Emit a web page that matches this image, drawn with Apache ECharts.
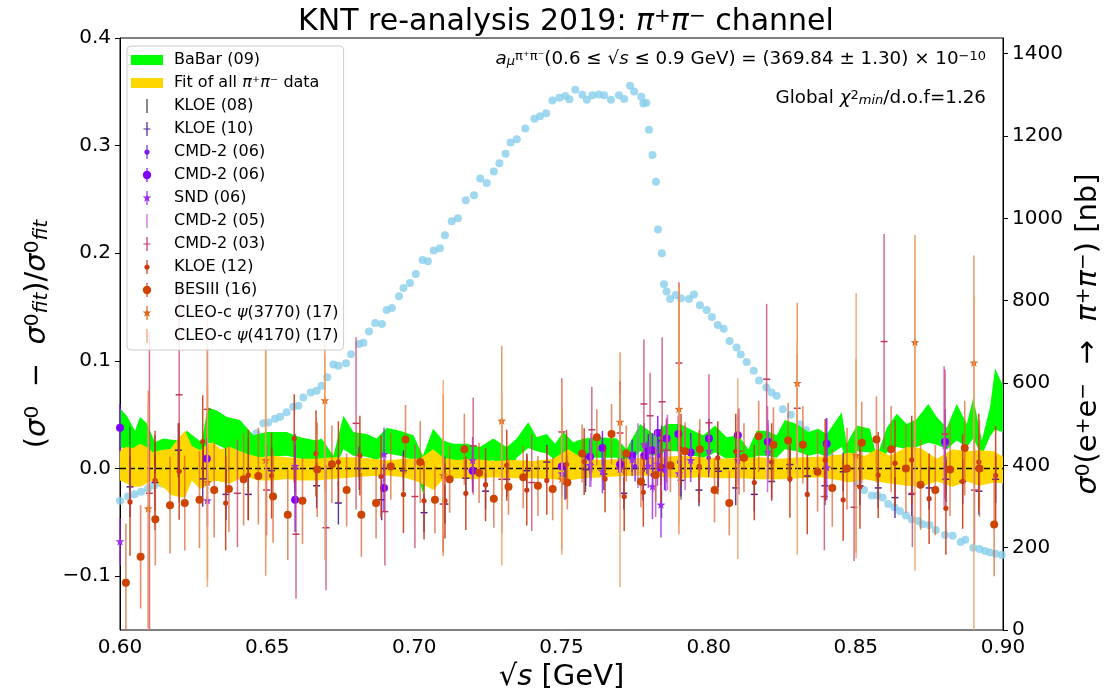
<!DOCTYPE html>
<html>
<head>
<meta charset="utf-8">
<script src="https://cdn.jsdelivr.net/npm/echarts@6/dist/echarts.min.js"></script>
<style>
html, body { margin: 0; padding: 0; background: #fff; }
#chart { width: 1105px; height: 698px; }
</style>
</head>
<body>
<div id="chart"></div>
<script>
// ---------- data ----------
const xTicks = [0.60, 0.65, 0.70, 0.75, 0.80, 0.85, 0.90];
const leftTicks = [-0.1, 0.0, 0.1, 0.2, 0.3, 0.4];
const rightTicks = [0, 200, 400, 600, 800, 1000, 1200, 1400];

// bare cross section sigma0(e+e- -> pi+pi-) [nb], right axis
const xsecX = [0.6000,0.6027,0.6050,0.6072,0.6095,0.6116,0.6140,0.6160,0.6180,0.6204,
  0.6228,0.6248,0.6272,0.6296,0.6316,0.6340,0.6364,0.6384,0.6408,0.6425,
  0.6442,0.6464,0.6487,0.6504,0.6527,0.6544,0.6566,0.6589,0.6606,0.6623,
  0.6648,0.6668,0.6685,0.6704,0.6725,0.6742,0.6768,0.6785,0.6812,0.6827,
  0.6846,0.6867,0.6890,0.6906,0.6924,0.6948,0.6963,0.6985,0.7005,0.7028,
  0.7046,0.7066,0.7087,0.7104,0.7127,0.7148,0.7175,0.7203,0.7224,0.7246,
  0.7270,0.7289,0.7310,0.7327,0.7348,0.7377,0.7408,0.7427,0.7448,0.7469,
  0.7493,0.7513,0.7527,0.7547,0.7571,0.7586,0.7605,0.7627,0.7645,0.7668,
  0.7695,0.7713,0.7733,0.7747,0.7771,0.7778,0.7788,0.7797,0.7809,0.7821,
  0.7828,0.7841,0.7848,0.7857,0.7869,0.7888,0.7906,0.7933,0.7950,0.7970,
  0.7993,0.8011,0.8031,0.8051,0.8071,0.8095,0.8109,0.8129,0.8153,0.8171,
  0.8196,0.8214,0.8231,0.8252,0.8279,0.8310,0.8331,0.8351,0.8372,0.8399,
  0.8419,0.8439,0.8463,0.8484,0.8507,0.8528,0.8554,0.8573,0.8591,0.8610,
  0.8631,0.8650,0.8670,0.8690,0.8712,0.8727,0.8750,0.8772,0.8803,0.8829,
  0.8856,0.8872,0.8899,0.8920,0.8939,0.8956,0.8975,0.8996];
const xsecY = [314,324,330,336,344,351,356,362,367,372,
  379,386,393,403,410,420,430,440,449,461,
  470,478,502,504,513,518,529,542,545,565,
  577,581,593,614,645,642,648,670,695,698,
  725,746,743,777,782,811,831,843,865,899,
  896,922,927,959,993,1000,1044,1056,1097,1086,
  1114,1134,1157,1184,1192,1218,1242,1248,1255,1286,
  1293,1297,1289,1312,1300,1288,1299,1301,1299,1288,
  1299,1290,1322,1308,1295,1279,1281,1215,1154,1089,
  973,915,840,822,804,814,806,804,815,789,
  777,760,741,732,702,686,669,651,630,606,
  589,577,569,536,523,499,486,469,452,432,
  418,398,381,369,355,340,327,327,322,306,
  298,289,278,269,265,257,255,243,231,229,
  214,219,200,197,192,188,185,182];

// BaBar (09) band relative to the fit
const babarX = [0.6000,0.6023,0.6051,0.6068,0.6091,0.6119,0.6147,0.6170,0.6198,0.6227,
  0.6255,0.6278,0.6297,0.6329,0.6363,0.6408,0.6453,0.6498,0.6566,0.6612,
  0.6668,0.6685,0.6725,0.6759,0.6793,0.6838,0.6872,0.6906,0.6951,0.6997,
  0.7029,0.7064,0.7098,0.7132,0.7178,0.7223,0.7268,0.7314,0.7348,0.7387,
  0.7416,0.7450,0.7478,0.7506,0.7540,0.7574,0.7631,0.7688,0.7721,0.7767,
  0.7812,0.7857,0.7903,0.7948,0.7982,0.8022,0.8061,0.8101,0.8135,0.8163,
  0.8197,0.8231,0.8259,0.8299,0.8339,0.8372,0.8401,0.8452,0.8469,0.8503,
  0.8548,0.8571,0.8605,0.8639,0.8673,0.8707,0.8746,0.8775,0.8809,0.8843,
  0.8877,0.8899,0.8928,0.8956,0.8973,0.9000];
const babarHi = [0.056,0.049,0.035,0.048,0.042,0.0245,0.028,0.027,0.026,0.035,
  0.029,0.0245,0.057,0.054,0.048,0.045,0.031,0.034,0.034,0.029,
  0.026,0.028,0.012,0.049,0.034,0.032,0.028,0.038,0.035,0.031,
  0.012,0.037,0.026,0.023,0.023,0.020,0.028,0.020,0.028,0.043,
  0.029,0.032,0.023,0.034,0.0245,0.028,0.029,0.028,0.018,0.0415,
  0.032,0.0415,0.0415,0.035,0.031,0.040,0.029,0.031,0.018,0.035,
  0.035,0.031,0.045,0.0415,0.034,0.037,0.032,0.052,0.023,0.040,
  0.037,0.0105,0.038,0.051,0.0415,0.046,0.060,0.048,0.038,0.060,
  0.0415,0.066,0.026,0.057,0.093,0.077];
const babarLo = [0.020,0.018,0.010,0.015,0.012,0.004,0.008,0.006,0.006,0.012,
  0.008,0.005,0.024,0.022,0.018,0.016,0.010,0.011,0.012,0.009,
  0.008,0.009,-0.004,0.018,0.012,0.011,0.008,0.014,0.012,0.008,
  -0.023,0.012,0.006,0.005,0.006,0.004,0.008,-0.008,0.010,0.019,
  0.016,0.014,0.008,0.012,0.008,0.010,0.010,0.010,0.002,0.016,
  0.012,0.016,0.016,0.012,0.010,0.015,0.009,0.010,0.002,0.012,
  0.012,0.010,0.018,0.016,0.012,0.014,0.011,0.020,0.006,0.016,
  0.015,-0.002,0.015,0.020,0.018,0.020,0.024,0.022,0.018,0.026,
  0.020,0.028,0.012,0.030,0.036,0.034];

// uncertainty band of the combined fit
const fitX = [0.6000,0.6023,0.6045,0.6068,0.6091,0.6113,0.6136,0.6159,0.6170,0.6193,
  0.6221,0.6244,0.6272,0.6295,0.6317,0.6340,0.6374,0.6408,0.6430,0.6475,
  0.6520,0.6566,0.6612,0.6668,0.6725,0.6793,0.6861,0.6906,0.6963,0.7019,
  0.7064,0.7098,0.7143,0.7200,0.7268,0.7336,0.7404,0.7472,0.7523,0.7574,
  0.7642,0.7710,0.7778,0.7846,0.7914,0.7972,0.8040,0.8108,0.8176,0.8244,
  0.8312,0.8380,0.8448,0.8476,0.8530,0.8572,0.8616,0.8673,0.8720,0.8775,
  0.8829,0.8877,0.8920,0.8970,0.9000];
const fitHi = [0.018,0.020,0.019,0.023,0.020,0.015,0.017,0.018,0.018,0.026,
  0.035,0.021,0.017,0.022,0.0245,0.018,0.020,0.016,0.0137,0.0105,
  0.012,0.0105,0.009,0.009,0.0105,0.0105,0.009,0.0074,0.009,0.009,
  0.018,0.010,0.008,0.009,0.007,0.008,0.007,0.009,0.018,0.009,
  0.008,0.009,0.010,0.011,0.012,0.0105,0.009,0.010,0.0105,0.009,
  0.0105,0.011,0.013,0.015,0.012,0.018,0.012,0.020,0.019,0.009,
  0.018,0.016,0.017,0.016,0.011];
const fitLo = [-0.011,-0.014,-0.017,-0.017,-0.014,-0.011,-0.016,-0.020,-0.024,-0.026,
  -0.027,-0.011,-0.019,-0.016,-0.011,-0.012,-0.014,-0.009,-0.008,-0.011,
  -0.011,-0.0096,-0.011,-0.011,-0.0096,-0.008,-0.007,-0.0065,-0.008,-0.013,
  -0.020,-0.010,-0.009,-0.010,-0.008,-0.009,-0.009,-0.010,-0.011,-0.009,
  -0.008,-0.007,-0.0065,-0.008,-0.009,-0.008,-0.009,-0.009,-0.010,-0.010,
  -0.009,-0.008,-0.011,-0.013,-0.010,-0.012,-0.014,-0.016,-0.017,-0.012,
  -0.017,-0.012,-0.016,-0.013,-0.014];

const zeroX = [0.6, 0.9];
const zeroY = [0, 0];

// KLOE (08)
const kloe08X = [0.6034,0.6119,0.6201,0.6283,0.6359,0.6436,0.6515,0.6595,0.6742,0.6813,
  0.6963,0.7104,0.7242,0.7382,0.7512,0.7582,0.7712,0.7840,0.7906,0.8033,
  0.8155,0.8276,0.8395,0.8514,0.8576,0.8690,0.8806,0.8918];
const kloe08Y = [0.009,0.005,-0.004,0.004,-0.001,0.004,0.002,0.004,-0.003,0.006,
  0.003,0.001,-0.002,0.002,-0.004,-0.009,0.004,-0.033,-0.007,0.003,
  -0.003,0.005,-0.004,0.002,-0.016,0.004,-0.008,-0.002];
const kloe08E = [0.030,0.026,0.022,0.020,0.020,0.025,0.016,0.015,0.014,0.015,
  0.012,0.010,0.010,0.009,0.009,0.013,0.010,0.013,0.022,0.012,
  0.012,0.013,0.014,0.015,0.012,0.016,0.016,0.018];

// KLOE (10)
const kloe10X = [0.6034,0.6119,0.6198,0.6281,0.6360,0.6436,0.6515,0.6595,0.6668,0.6742,
  0.6813,0.6889,0.6963,0.7033,0.7104,0.7175,0.7242,0.7314,0.7382,0.7450,
  0.7512,0.7582,0.7644,0.7712,0.7777,0.7840,0.7906,0.7967,0.8033,0.8092,
  0.8155,0.8214,0.8276,0.8336,0.8395,0.8457,0.8514,0.8576,0.8633,0.8690,
  0.8749,0.8806,0.8863,0.8918,0.8975];
const kloe10Y = [-0.017,-0.013,0.017,-0.0096,-0.024,-0.024,-0.002,0.000,-0.016,-0.032,
  0.000,-0.029,-0.002,-0.041,-0.033,-0.009,-0.021,-0.010,-0.002,0.006,
  -0.014,-0.001,-0.005,-0.023,-0.015,0.026,-0.011,-0.020,-0.0025,-0.018,
  -0.024,-0.012,0.0037,-0.007,-0.016,-0.003,-0.016,-0.018,-0.027,-0.024,
  -0.018,-0.010,-0.012,-0.021,-0.010];
const kloe10E = [0.028,0.026,0.025,0.026,0.024,0.024,0.022,0.022,0.021,0.020,
  0.020,0.019,0.019,0.018,0.018,0.017,0.017,0.016,0.016,0.016,
  0.015,0.015,0.015,0.015,0.015,0.014,0.015,0.015,0.015,0.016,
  0.016,0.016,0.017,0.017,0.018,0.018,0.018,0.019,0.019,0.020,
  0.020,0.021,0.021,0.022,0.022];

// CMD-2 (06), small markers
const cmd06aX = [0.7600,0.7700,0.7750,0.7790,0.7810,0.7830,0.7850,0.7900,0.8000,0.8100];
const cmd06aY = [0.004,0.008,0.002,0.010,-0.006,0.012,-0.002,0.006,0.010,0.012];
const cmd06aE = [0.015,0.014,0.014,0.015,0.016,0.016,0.018,0.016,0.018,0.020];

// CMD-2 (06), large markers
const cmd06bX = [0.6000,0.6295,0.6595,0.6897,0.7198,0.7501,0.7597,0.7639,0.7699,0.7740,
  0.7781,0.7795,0.7809,0.7827,0.7838,0.7857,0.7897,0.7939,0.8001,0.8099,
  0.8201,0.8401,0.8803];
const cmd06bY = [0.038,0.009,-0.029,-0.018,-0.002,0.002,0.011,0.019,0.0037,0.012,
  0.012,0.017,0.017,0.033,0.001,0.028,0.032,0.015,0.028,0.031,
  0.025,0.023,0.025];
const cmd06bE = [0.022,0.020,0.030,0.022,0.020,0.018,0.016,0.016,0.015,0.015,
  0.015,0.015,0.016,0.016,0.016,0.017,0.017,0.018,0.018,0.019,
  0.020,0.024,0.030];

// SND (06)
const sndX = [0.6000,0.6297,0.6595,0.6897,0.7198,0.7501,0.7597,0.7639,0.7699,0.7740,
  0.7781,0.7795,0.7809,0.7826,0.7838,0.7854,0.7899,0.7939,0.8001,0.8099,
  0.8201,0.8401,0.8803];
const sndY = [-0.068,-0.030,0.002,0.013,0.0074,-0.005,0.0028,-0.003,-0.001,0.008,
  0.022,0.002,-0.017,0.004,-0.034,-0.001,-0.005,0.0074,0.016,0.0074,
  0.015,0.0006,0.021];
const sndE = [0.022,0.024,0.030,0.025,0.022,0.020,0.020,0.020,0.015,0.015,
  0.020,0.020,0.030,0.020,0.030,0.020,0.020,0.020,0.020,0.020,
  0.025,0.030,0.030];

// CMD-2 (05)
const cmd05X = [0.7600,0.7700,0.7760,0.7820,0.7860,0.7920,0.8100,0.8200,0.8800];
const cmd05Y = [0.008,0.004,0.012,-0.005,0.015,0.010,0.020,0.018,0.030];
const cmd05E = [0.025,0.030,0.030,0.040,0.035,0.030,0.035,0.040,0.065];

// CMD-2 (03)
const cmd03X = [0.6100,0.6201,0.6297,0.6399,0.6498,0.6598,0.6700,0.6802,0.6900,0.7002,
  0.7098,0.7200,0.7297,0.7399,0.7501,0.7603,0.7699,0.7780,0.7801,0.7842,
  0.7857,0.7899,0.8001,0.8103,0.8197,0.8301,0.8393,0.8494,0.8596,0.8692,
  0.8803,0.8903];
const cmd03Y = [-0.023,0.0685,0.055,-0.023,-0.020,-0.061,-0.055,0.042,-0.040,-0.026,
  -0.033,0.021,-0.010,-0.013,0.034,0.036,0.033,0.060,0.049,0.062,
  0.017,0.098,0.0425,0.016,0.083,0.056,-0.026,-0.036,0.118,-0.023,
  0.032,-0.020];
const cmd03E = [0.150,0.100,0.065,0.050,0.042,0.060,0.058,0.080,0.050,0.048,
  0.045,0.045,0.050,0.045,0.050,0.040,0.048,0.060,0.040,0.060,
  0.030,0.075,0.045,0.040,0.070,0.050,0.050,0.050,0.100,0.050,
  0.060,0.050];

// KLOE (12)
const kloe12X = [0.6034,0.6119,0.6201,0.6281,0.6359,0.6436,0.6515,0.6592,0.6666,0.6742,
  0.6815,0.6887,0.6963,0.7033,0.7104,0.7175,0.7242,0.7314,0.7382,0.7450,
  0.7517,0.7577,0.7648,0.7713,0.7778,0.7838,0.7906,0.7968,0.8031,0.8092,
  0.8155,0.8214,0.8276,0.8335,0.8396,0.8457,0.8514,0.8576,0.8633,0.8690,
  0.8749,0.8806,0.8863,0.8918,0.8975];
const kloe12Y = [-0.031,-0.011,-0.0025,0.025,-0.032,-0.006,-0.0065,0.028,0.014,0.006,
  0.012,-0.0074,-0.024,-0.030,-0.030,-0.023,-0.015,0.003,-0.020,-0.011,
  0.004,0.0065,-0.0096,-0.026,-0.022,0.002,0.018,0.002,0.010,0.016,
  -0.013,0.006,-0.0096,-0.024,0.008,-0.029,-0.017,-0.006,0.005,0.008,
  -0.028,-0.037,-0.012,0.006,-0.0065];
const kloe12E = [0.050,0.046,0.045,0.043,0.044,0.042,0.040,0.041,0.040,0.038,
  0.037,0.038,0.036,0.036,0.035,0.034,0.034,0.033,0.033,0.032,
  0.032,0.031,0.031,0.032,0.032,0.033,0.033,0.034,0.034,0.035,
  0.035,0.036,0.036,0.037,0.038,0.038,0.039,0.040,0.040,0.041,
  0.042,0.043,0.044,0.045,0.046];

// BESIII (16)
const besX = [0.602,0.607,0.612,0.617,0.622,0.627,0.632,0.637,0.642,0.647,
  0.652,0.657,0.662,0.667,0.672,0.677,0.682,0.687,0.692,0.697,
  0.702,0.707,0.712,0.717,0.722,0.727,0.732,0.737,0.742,0.747,
  0.752,0.757,0.762,0.767,0.772,0.777,0.782,0.787,0.792,0.797,
  0.802,0.807,0.812,0.817,0.822,0.827,0.832,0.837,0.842,0.847,
  0.852,0.857,0.862,0.867,0.872,0.877,0.882,0.887,0.892,0.897];
const besY = [-0.106,-0.082,-0.047,-0.034,-0.032,-0.029,-0.020,-0.019,-0.010,-0.007,
  -0.026,-0.043,-0.030,-0.001,0.004,-0.020,-0.043,-0.032,0.002,0.027,
  0.006,-0.029,-0.010,0.018,-0.004,-0.028,-0.017,-0.008,-0.016,-0.019,
  -0.013,0.014,0.029,0.032,0.014,-0.012,-0.006,0.003,0.016,0.018,
  -0.020,-0.032,0.010,0.030,0.022,0.026,0.022,-0.003,-0.018,0.000,
  0.024,0.027,0.018,0.000,-0.015,-0.020,-0.001,0.019,0.000,-0.052];
const besE = [0.055,0.048,0.043,0.045,0.044,0.045,0.044,0.040,0.043,0.045,
  0.043,0.042,0.040,0.044,0.036,0.034,0.039,0.033,0.031,0.032,
  0.038,0.031,0.031,0.033,0.028,0.027,0.026,0.029,0.028,0.029,
  0.025,0.027,0.026,0.028,0.026,0.024,0.025,0.025,0.027,0.028,
  0.030,0.030,0.032,0.033,0.035,0.035,0.036,0.037,0.036,0.038,
  0.038,0.040,0.040,0.041,0.042,0.042,0.043,0.044,0.045,0.048];

// CLEO-c psi(3770) (17)
const cleoAX = [0.6096,0.6297,0.6495,0.6696,0.7098,0.7297,0.7501,0.7699,0.7899,0.8301,0.8501,0.8701,0.8901];
const cleoAY = [-0.0375,-0.013,0.0074,0.063,-0.0065,0.044,-0.010,0.043,0.055,0.079,0.012,0.117,0.098];
const cleoAE = [0.110,0.090,0.107,0.085,0.075,0.070,0.065,0.065,0.116,0.075,0.090,0.100,0.100];

// CLEO-c psi(4170) (17)
const cleoBX = [0.6096,0.6297,0.6495,0.6696,0.7098,0.7297,0.7501,0.7699,0.7899,0.8099,0.8301,0.8501,0.8701,0.8901];
const cleoBY = [-0.060,0.020,0.020,0.010,0.010,-0.010,0.000,-0.020,0.060,0.000,0.020,0.040,0.040,-0.030];
const cleoBE = [0.120,0.130,0.094,0.095,0.072,0.080,0.080,0.090,0.111,0.084,0.100,0.123,0.135,0.190];

// ---------- drawing helpers ----------
const FONT = 'DejaVu Sans';

function starPoints(cx, cy, r) {
  const pts = [];
  for (let k = 0; k < 10; k++) {
    const a = -Math.PI / 2 + k * Math.PI / 5;
    const rr = (k % 2) ? r * 0.42 : r;
    pts.push([cx + rr * Math.cos(a), cy + rr * Math.sin(a)]);
  }
  return pts;
}

// filled band between two curves, drawn as one polygon
function bandSeries(name, xs, lo, hi, color) {
  return {
    type: 'custom', name, silent: true, z: 2,
    itemStyle: { color },
    data: xs.map((x, i) => [x, lo[i], hi[i]]),
    encode: { x: 0, y: [1, 2] },
    renderItem(params, api) {
      if (params.dataIndex !== 0) return null;
      const upper = xs.map((x, i) => api.coord([x, hi[i]]));
      const lower = xs.map((x, i) => api.coord([x, lo[i]])).reverse();
      return { type: 'polygon', shape: { points: upper.concat(lower) }, style: { fill: color } };
    }
  };
}

// points with vertical error bars
function errSeries(name, xs, ys, es, st) {
  return {
    type: 'custom', name, silent: true, z: 3,
    itemStyle: { color: st.color },
    data: xs.map((x, i) => [x, ys[i], es[i]]),
    encode: { x: 0, y: 1 },
    renderItem(params, api) {
      const cs = params.coordSys;
      const x = api.value(0), y = api.value(1), e = api.value(2);
      const c = api.coord([x, y]);
      const t = api.coord([x, y + e]);
      const b = api.coord([x, y - e]);
      const y1 = Math.max(cs.y, t[1]);
      const y2 = Math.min(cs.y + cs.height, b[1]);
      const kids = [];
      if (y2 > y1) {
        kids.push({ type: 'line', shape: { x1: c[0], y1: y1, x2: c[0], y2: y2 },
          style: { stroke: st.bar || st.color, lineWidth: st.lw || 1.5, opacity: st.alpha == null ? 1 : st.alpha } });
      }
      if (st.marker === 'dot') {
        kids.push({ type: 'circle', shape: { cx: c[0], cy: c[1], r: st.r }, style: { fill: st.color } });
      } else if (st.marker === 'plus') {
        kids.push({ type: 'line', shape: { x1: c[0] - st.r, y1: c[1], x2: c[0] + st.r, y2: c[1] },
          style: { stroke: st.color, lineWidth: 1.5 } });
      } else if (st.marker === 'star') {
        kids.push({ type: 'polygon', shape: { points: starPoints(c[0], c[1], st.r) }, style: { fill: st.color } });
      }
      return { type: 'group', children: kids };
    }
  };
}

// legend glyphs (box fixed at 32x14 by the two leading moves)
const BOX = 'M0 0 M32 14 ';
const VBAR = 'M15.4 0 L16.6 0 L16.6 14 L15.4 14 Z';
function dotPath(r) { return ` M${16 + r} 7 A${r} ${r} 0 1 1 ${16 - r} 7 A${r} ${r} 0 1 1 ${16 + r} 7 Z`; }
function starPath(r) { return ' M' + starPoints(16, 7, r).map(p => p[0].toFixed(2) + ' ' + p[1].toFixed(2)).join(' L') + ' Z'; }
const ICON = {
  patch: 'path://' + BOX + 'M0 2 L32 2 L32 12 L0 12 Z',
  line: 'path://' + BOX + VBAR,
  plus: 'path://' + BOX + VBAR + ' M12.5 6.4 L19.5 6.4 L19.5 7.6 L12.5 7.6 Z',
  dot: 'path://' + BOX + VBAR + dotPath(2.6),
  big: 'path://' + BOX + VBAR + dotPath(4.2),
  star: 'path://' + BOX + VBAR + starPath(4.6)
};

const S = {
  kloe08: { color: '#3a3a3a', lw: 1.2, alpha: 0.85, marker: 'none' },
  kloe10: { color: '#4b1f91', lw: 1.4, alpha: 0.9, marker: 'plus', r: 3.5 },
  cmd06a: { color: '#7a1de6', lw: 1.4, alpha: 0.9, marker: 'dot', r: 2.3 },
  cmd06b: { color: '#8000ff', lw: 1.5, alpha: 0.85, marker: 'dot', r: 4 },
  snd: { color: '#9b2df2', lw: 1.5, alpha: 0.85, marker: 'star', r: 4.6 },
  cmd05: { color: '#c863d6', lw: 1.5, alpha: 0.9, marker: 'none' },
  cmd03: { color: '#c2385c', bar: '#c94b6c', lw: 1.5, alpha: 0.8, marker: 'plus', r: 3.5 },
  kloe12: { color: '#c93a14', lw: 1.5, alpha: 0.9, marker: 'dot', r: 2.6 },
  bes: { color: '#cc4400', bar: '#d9612f', lw: 1.6, alpha: 0.7, marker: 'dot', r: 4 },
  cleoA: { color: '#e0661c', bar: '#e57a34', lw: 1.5, alpha: 0.75, marker: 'star', r: 4.6 },
  cleoB: { color: '#eea064', lw: 1.5, alpha: 0.85, marker: 'none' }
};

const names = {
  babar: 'BaBar (09)', fit: 'Fit of all π⁺π⁻ data',
  kloe08: 'KLOE (08)', kloe10: 'KLOE (10)', cmd06a: 'CMD-2 (06)', cmd06b: 'CMD-2 (06) ',
  snd: 'SND (06)', cmd05: 'CMD-2 (05)', cmd03: 'CMD-2 (03)', kloe12: 'KLOE (12)',
  bes: 'BESIII (16)', cleoA: 'CLEO-c ψ(3770) (17)', cleoB: 'CLEO-c ψ(4170) (17)'
};

const series = [
  {
    type: 'scatter', yAxisIndex: 1, silent: true, symbol: 'circle', symbolSize: 8, z: 1,
    itemStyle: { color: '#87ceeb' },
    data: xsecX.map((x, i) => [x, xsecY[i]])
  },
  bandSeries(names.babar, babarX, babarLo, babarHi, '#00ff00'),
  bandSeries(names.fit, fitX, fitLo, fitHi, '#ffd700'),
  {
    type: 'line', silent: true, symbol: 'none', z: 2,
    lineStyle: { color: '#000', width: 1.5, type: [6, 3] },
    data: zeroX.map((x, i) => [x, zeroY[i]])
  },
  errSeries(names.kloe08, kloe08X, kloe08Y, kloe08E, S.kloe08),
  errSeries(names.kloe10, kloe10X, kloe10Y, kloe10E, S.kloe10),
  errSeries(names.cmd06a, cmd06aX, cmd06aY, cmd06aE, S.cmd06a),
  errSeries(names.cmd06b, cmd06bX, cmd06bY, cmd06bE, S.cmd06b),
  errSeries(names.snd, sndX, sndY, sndE, S.snd),
  errSeries(names.cmd05, cmd05X, cmd05Y, cmd05E, S.cmd05),
  errSeries(names.cmd03, cmd03X, cmd03Y, cmd03E, S.cmd03),
  errSeries(names.kloe12, kloe12X, kloe12Y, kloe12E, S.kloe12),
  errSeries(names.bes, besX, besY, besE, S.bes),
  errSeries(names.cleoA, cleoAX, cleoAY, cleoAE, S.cleoA),
  errSeries(names.cleoB, cleoBX, cleoBY, cleoBE, S.cleoB)
];

const legendData = [
  { name: names.babar, icon: ICON.patch },
  { name: names.fit, icon: ICON.patch },
  { name: names.kloe08, icon: ICON.line },
  { name: names.kloe10, icon: ICON.plus },
  { name: names.cmd06a, icon: ICON.dot },
  { name: names.cmd06b, icon: ICON.big },
  { name: names.snd, icon: ICON.star },
  { name: names.cmd05, icon: ICON.line },
  { name: names.cmd03, icon: ICON.plus },
  { name: names.kloe12, icon: ICON.dot },
  { name: names.bes, icon: ICON.big },
  { name: names.cleoA, icon: ICON.star },
  { name: names.cleoB, icon: ICON.line }
];

const minus = s => s.replace('-', '\u2212');

const richName = {
  p: { fontFamily: FONT, fontSize: 29, color: '#000' },
  i: { fontFamily: FONT, fontSize: 29, fontStyle: 'italic', color: '#000' },
  sup: { fontFamily: FONT, fontSize: 20, color: '#000', verticalAlign: 'top', lineHeight: 19 },
  sub: { fontFamily: FONT, fontSize: 20, fontStyle: 'italic', color: '#000', verticalAlign: 'bottom', lineHeight: 19 }
};

const annRich = {
  p: { fontFamily: FONT, fontSize: 18.3, fill: '#000' },
  i: { fontFamily: FONT, fontSize: 18.3, fontStyle: 'italic', fill: '#000' },
  sup: { fontFamily: FONT, fontSize: 13, fill: '#000', verticalAlign: 'top', lineHeight: 12 },
  sub: { fontFamily: FONT, fontSize: 13, fontStyle: 'italic', fill: '#000', verticalAlign: 'bottom', lineHeight: 12 }
};

const chart = echarts.init(document.getElementById('chart'), null, { renderer: 'canvas' });
chart.setOption({
  animation: false,
  backgroundColor: '#ffffff',
  title: {
    text: '{p|KNT re-analysis 2019: }{i|π}{s|+}{i|π}{s|−}{p| channel}',
    left: 561, top: 2, textAlign: 'center',
    textStyle: {
      fontWeight: 'normal',
      rich: {
        p: { fontFamily: FONT, fontSize: 30, fontWeight: 'normal', color: '#000' },
        i: { fontFamily: FONT, fontSize: 30, fontWeight: 'normal', fontStyle: 'italic', color: '#000' },
        s: { fontFamily: FONT, fontSize: 20, fontWeight: 'normal', color: '#000', verticalAlign: 'top', lineHeight: 19 }
      }
    }
  },
  grid: { left: 120, right: 102, top: 38, bottom: 68, show: true, borderColor: '#000', borderWidth: 1, outerBoundsMode: 'none' },
  legend: {
    orient: 'vertical', left: 127, top: 46, padding: [6, 5, 6, 4],
    itemGap: 7, itemWidth: 32, itemHeight: 14, selectedMode: false,
    backgroundColor: 'rgba(255,255,255,0.85)', borderColor: '#cccccc', borderWidth: 1, borderRadius: 4,
    textStyle: {
      fontFamily: FONT, fontSize: 16, color: '#000', padding: [0, 0, 0, 6], lineHeight: 14,
      rich: { i: { fontFamily: FONT, fontSize: 16, fontStyle: 'italic', color: '#000', lineHeight: 14 } }
    },
    formatter: n => n.replace(/([πψ])/g, '{i|$1}'),
    data: legendData
  },
  xAxis: {
    type: 'value', min: 0.6, max: 0.9, interval: 0.05,
    name: '{p|√}{i|s}{p| [GeV]}', nameLocation: 'middle', nameGap: 33,
    nameTextStyle: { rich: richName },
    axisLine: { show: true, lineStyle: { color: '#000', width: 1 } },
    axisTick: { show: true, inside: false, length: 5, lineStyle: { color: '#000' } },
    axisLabel: { fontFamily: FONT, fontSize: 20, color: '#000', margin: 8, formatter: v => v.toFixed(2) },
    splitLine: { show: false }
  },
  yAxis: [
    {
      type: 'value', min: -0.15, max: 0.4, position: 'left',
      name: '{p|(}{i|σ}{sup|0}{p|  −  }{i|σ}{sup|0}{sub|fit}{p|)/}{i|σ}{sup|0}{sub|fit}',
      nameLocation: 'middle', nameRotate: 90, nameGap: 58,
      nameTextStyle: { rich: richName },
      axisLine: { show: true, lineStyle: { color: '#000', width: 1 } },
      axisTick: { show: true, length: 5, customValues: leftTicks, lineStyle: { color: '#000' } },
      axisLabel: { fontFamily: FONT, fontSize: 20, color: '#000', margin: 9, customValues: leftTicks,
        formatter: v => minus(v.toFixed(1)) },
      splitLine: { show: false }
    },
    {
      type: 'value', min: 0, max: 1438, position: 'right',
      name: '{i|σ}{sup|0}{p|(e}{sup|+}{p|e}{sup|−}{p|  →  }{i|π}{sup|+}{i|π}{sup|−}{p|) [nb]}',
      nameLocation: 'middle', nameRotate: 90, nameGap: 60,
      nameTextStyle: { rich: richName },
      axisLine: { show: true, lineStyle: { color: '#000', width: 1 } },
      axisTick: { show: true, length: 5, customValues: rightTicks, lineStyle: { color: '#000' } },
      axisLabel: { fontFamily: FONT, fontSize: 20, color: '#000', margin: 9, customValues: rightTicks,
        formatter: v => String(v) },
      splitLine: { show: false }
    }
  ],
  graphic: [
    {
      type: 'text', right: 119, top: 50, z: 100,
      style: {
        text: '{i|a}{sub|μ}{sup|π⁺π⁻}{p|(0.6 ≤ √}{i|s}{p| ≤ 0.9 GeV) = (369.84 ± 1.30) × 10}{sup|−10}',
        rich: annRich
      }
    },
    {
      type: 'text', right: 119, top: 89, z: 100,
      style: {
        text: '{p|Global }{i|χ}{sup|2}{sub|min}{p|/d.o.f=1.26}',
        rich: annRich
      }
    }
  ],
  series
});
</script>
</body>
</html>
